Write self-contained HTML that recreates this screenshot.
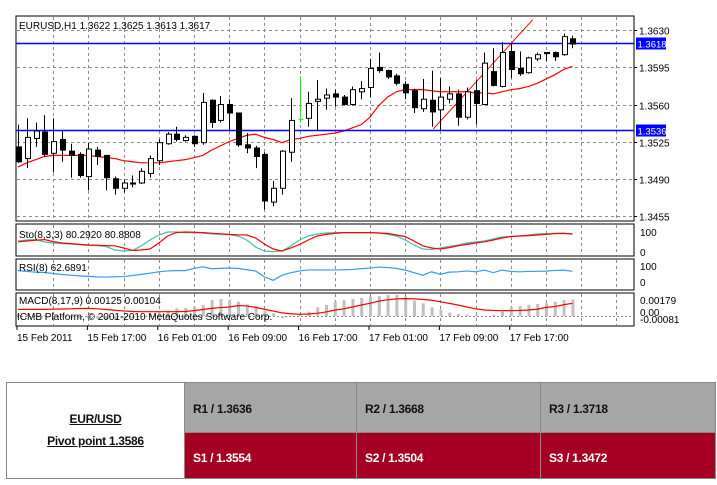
<!DOCTYPE html>
<html><head><meta charset="utf-8"><style>
html,body{margin:0;padding:0;background:#fff;}
body{width:717px;height:485px;position:relative;overflow:hidden;font-family:"Liberation Sans",sans-serif;}
svg{position:absolute;left:0;top:0;}
svg text{font-family:"Liberation Sans",sans-serif;font-size:10px;fill:#000;}
.tbl{position:absolute;left:6px;top:382px;width:710px;height:97px;border:1px solid #888;box-sizing:border-box;}
.cell{position:absolute;box-sizing:border-box;font-weight:bold;font-size:12px;letter-spacing:-0.3px;}
.g{background:#a6a6a6;color:#111;border-left:1px solid #888;}
.r{background:#a50021;color:#fff;border-left:1px solid #888;border-top:1px solid #888;}
</style></head><body>
<svg id="chart" width="717" height="485"></svg>

<div class="tbl">
 <div class="cell" style="left:0;top:0;width:177px;height:95px;text-align:center;color:#111;">
  <div style="position:absolute;top:29px;width:100%;"><span style="text-decoration:underline;">EUR/USD</span></div>
  <div style="position:absolute;top:51px;width:100%;"><span style="text-decoration:underline;">Pivot point 1.3586</span></div>
 </div>
 <div class="cell g" style="left:177px;top:0;width:172px;height:49px;padding:19px 0 0 8px;">R1 / 1.3636</div>
 <div class="cell g" style="left:349px;top:0;width:184px;height:49px;padding:19px 0 0 8px;">R2 / 1.3668</div>
 <div class="cell g" style="left:533px;top:0;width:175px;height:49px;padding:19px 0 0 8px;">R3 / 1.3718</div>
 <div class="cell r" style="left:177px;top:49px;width:172px;height:46px;padding:18px 0 0 8px;">S1 / 1.3554</div>
 <div class="cell r" style="left:349px;top:49px;width:184px;height:46px;padding:18px 0 0 8px;">S2 / 1.3504</div>
 <div class="cell r" style="left:533px;top:49px;width:175px;height:46px;padding:18px 0 0 8px;">S3 / 1.3472</div>
</div>

<script>
const opens=[1.3520,1.3509,1.3528,1.3534,1.3514,1.3527,1.3516,1.3513,1.3492,1.3517,1.3512,1.3490,1.3481,1.3486,1.3486,1.3495,1.3507,1.3523,1.3532,1.3526,1.3530,1.3524,1.3564,1.3545,1.3560,1.3552,1.3522,1.3519,1.3513,1.3468,1.3481,1.3515,1.3546,1.3547,1.3563,1.3566,1.3570,1.3567,1.3560,1.3572,1.3576,1.3595,1.3592,1.3587,1.3579,1.3573,1.3556,1.3564,1.3555,1.3565,1.3570,1.3548,1.3573,1.3560,1.3591,1.3577,1.3610,1.3594,1.3590,1.3603,1.3609,1.3609,1.3607,1.3622];
const highs=[1.3541,1.3547,1.3543,1.3550,1.3547,1.3535,1.3523,1.3515,1.3524,1.3520,1.3512,1.3492,1.3489,1.3493,1.3500,1.3512,1.3527,1.3534,1.3539,1.3531,1.3531,1.3571,1.3565,1.3568,1.3565,1.3552,1.3533,1.3521,1.3515,1.3488,1.3517,1.3566,1.3587,1.3572,1.3583,1.3575,1.3574,1.3569,1.3577,1.3582,1.3603,1.3609,1.3593,1.3589,1.3582,1.3575,1.3584,1.3592,1.3585,1.3577,1.3574,1.3576,1.3583,1.3609,1.3613,1.3619,1.3618,1.3610,1.3605,1.3609,1.3609,1.3610,1.3627,1.3625];
const lows=[1.3505,1.3500,1.3520,1.3511,1.3496,1.3506,1.3491,1.3491,1.3479,1.3503,1.3479,1.3475,1.3477,1.3482,1.3485,1.3491,1.3503,1.3522,1.3525,1.3525,1.3520,1.3522,1.3538,1.3543,1.3536,1.3520,1.3514,1.3500,1.3461,1.3464,1.3475,1.3506,1.3543,1.3539,1.3535,1.3555,1.3558,1.3559,1.3559,1.3565,1.3567,1.3590,1.3584,1.3578,1.3565,1.3552,1.3553,1.3539,1.3536,1.3561,1.3540,1.3546,1.3541,1.3560,1.3577,1.3576,1.3585,1.3587,1.3589,1.3601,1.3601,1.3601,1.3606,1.3613];
const closes=[1.3506,1.3529,1.3535,1.3513,1.3525,1.3517,1.3512,1.3493,1.3518,1.3511,1.3491,1.3481,1.3486,1.3485,1.3497,1.3509,1.3524,1.3532,1.3527,1.3529,1.3523,1.3562,1.3543,1.3560,1.3552,1.3522,1.3519,1.3511,1.3469,1.3481,1.3516,1.3545,1.3546,1.3561,1.3565,1.3569,1.3567,1.3560,1.3574,1.3575,1.3594,1.3592,1.3586,1.3580,1.3571,1.3557,1.3565,1.3553,1.3567,1.3570,1.3548,1.3572,1.3561,1.3599,1.3578,1.3609,1.3593,1.3589,1.3604,1.3607,1.3608,1.3605,1.3624,1.3617];
const maValues=[1.3501,1.3505,1.3508,1.3511,1.3512,1.3512,1.3512,1.3512,1.3512,1.3511,1.3510,1.3509,1.3507,1.3506,1.3505,1.3505,1.3505,1.3506,1.3507,1.3508,1.3510,1.3512,1.3517,1.3521,1.3525,1.3528,1.3531,1.3532,1.3529,1.3527,1.3524,1.3527,1.3528,1.3530,1.3531,1.3532,1.3533,1.3535,1.3538,1.3541,1.3548,1.3559,1.3567,1.3572,1.3574,1.3574,1.3574,1.3573,1.3572,1.3572,1.3572,1.3572,1.3571,1.3571,1.3570,1.3572,1.3574,1.3575,1.3577,1.3580,1.3584,1.3588,1.3593,1.3596];
const stochMain=[55,60,62,50,45,42,40,36,33,32,28,10,5,8,30,60,85,100,100,97,96,95,90,88,86,80,60,25,5,2,5,30,60,80,90,95,97,97,97,97,97,95,88,80,60,35,15,12,20,28,35,45,50,55,65,75,78,80,85,90,92,93,94,88];
const stochSignal=[51,55,59,62,52,45,42,38,35,34,32,31,20,8,10,15,45,80,97,100,99,97,94,91,88,86,85,70,40,15,5,20,38,60,80,88,93,97,97,97,97,95,93,85,77,55,31,20,15,22,31,38,45,51,60,70,77,80,82,85,88,92,93,90];
const rsiValues=[67,62,58,56,50,44,40,36,33,30,29,31,32,38,45,52,60,65,67,67,80,90,78,80,82,80,72,65,30,10,40,55,65,71,71,71,71,72,74,78,82,88,85,80,70,55,40,60,45,58,60,65,60,70,55,70,62,60,62,63,64,68,70,63];
const macdHist=[0.0002,0.0002,0.0001,0.0001,0.0000,-0.0001,-0.0002,-0.0003,-0.0003,-0.0003,-0.0004,-0.0004,-0.0003,-0.0002,0.0000,0.0002,0.0004,0.00059,0.00085,0.00090,0.00100,0.00122,0.00178,0.00189,0.00178,0.00159,0.00130,0.00111,0.00059,0.00030,-0.00026,-0.00007,0.00020,0.00048,0.00096,0.00122,0.00159,0.00178,0.00189,0.00200,0.00215,0.00222,0.00233,0.00233,0.00215,0.00170,0.00141,0.00096,0.00074,0.00037,0.00022,0.00015,0.00011,0.00000,0.00011,0.00050,0.00096,0.00111,0.00122,0.00135,0.00141,0.00159,0.00178,0.00185];
const macdSignal=[0.00074,0.00074,0.00074,0.00074,0.00076,0.00078,0.00080,0.00083,0.00085,0.00080,0.00072,0.00064,0.00056,0.00050,0.00048,0.00048,0.00048,0.00048,0.00048,0.00050,0.00060,0.00072,0.00085,0.00094,0.00100,0.00115,0.00112,0.00096,0.00075,0.00055,0.00035,0.00025,0.00019,0.00022,0.00030,0.00045,0.00065,0.00080,0.00100,0.00122,0.00141,0.00165,0.00180,0.00190,0.00193,0.00190,0.00185,0.00175,0.00159,0.00140,0.00122,0.00100,0.00080,0.00067,0.00062,0.00059,0.00060,0.00062,0.00067,0.00075,0.00096,0.00105,0.00125,0.00141];
const priceTicks=[1.3630,1.3595,1.3560,1.3525,1.3490,1.3455];
const levelLines=[1.3618,1.3536];
const trendBars=[47.2,58.5];
const trendPrices=[1.3537,1.3640];
const dateLabels=["15 Feb 2011","15 Feb 17:00","16 Feb 01:00","16 Feb 09:00","16 Feb 17:00","17 Feb 01:00","17 Feb 09:00","17 Feb 17:00"];
const dateBars=[0,8,16,24,32,40,48,56];

const svg=document.getElementById('chart');
const NS='http://www.w3.org/2000/svg';
function mk(tag,attrs,parent){const e=document.createElementNS(NS,tag);for(const k in attrs)e.setAttribute(k,attrs[k]);(parent||svg).appendChild(e);return e;}
const L=16,R=634;
const xB=i=>18+8.8*i;
const yP=p=>43+(1.3618-p)/0.0000943;
const yS=v=>252-v*0.2;
const yR=v=>282-v*0.17;
const yM=v=>316-v*9000;

const panels=[[16,221,'main-panel'],[224,256,'stoch-panel'],[259,290,'rsi-panel'],[293,326,'macd-panel']];
panels.forEach(p=>{
 const r=mk('rect',{x:L,y:p[0],width:R-L,height:p[1]-p[0],fill:'#fff',stroke:'#000','stroke-width':1});
 
 
});
for(let k=1;k<=17;k++){
 const x=Math.round(xB(4*k))+0.5;
 panels.forEach(p=>{
  const g=mk('line',{x1:x,x2:x,y1:p[0]+1,y2:p[1]-1,stroke:'#8c8c8c','stroke-dasharray':'3,3'});
  
  
 });
}
priceTicks.forEach(t=>{
 const y=Math.round(yP(t))+0.5;
 const g=mk('line',{x1:L+1,x2:R-1,y1:y,y2:y,stroke:'#8c8c8c','stroke-dasharray':'3,3'});
 
 
 mk('line',{x1:R,x2:R+3,y1:y,y2:y,stroke:'#000'});
 const tx=mk('text',{x:639,y:y+4});
 tx.textContent=t.toFixed(4);
 
 
});
let d='';
maValues.forEach((v,i)=>{d+=(i?'L':'M')+xB(i)+','+yP(v);});
const ma=mk('path',{d:d,fill:'none',stroke:'#ff0000','stroke-width':1.2});


levelLines.forEach(l=>{
 const y=Math.round(yP(l))+0.5;
 const ln=mk('line',{x1:L,x2:R,y1:y,y2:y,stroke:'#0000ff','stroke-width':1.5});
 
 
 const bx=mk('rect',{x:636,y:y-6,width:30,height:12,fill:'#0000ff'});
 
 
 const t=mk('text',{x:637.5,y:y+4});
 t.style.fill='#fff';
 t.style.fontSize='9.5px';
 t.textContent=l.toFixed(4);
 
 
});
const tl=mk('line',{x1:xB(trendBars[0]),y1:yP(trendPrices[0]),x2:xB(trendBars[1]),y2:yP(trendPrices[1]),stroke:'#ff0000','stroke-width':1});


opens.forEach((o,i)=>{
 const c=closes[i],x=Math.round(xB(i))+0.5;
 const doji=Math.abs(o-c)<0.00005;
 const col=doji?'#00ff00':'#000';
 const g=mk('g',{});
 
 
 mk('line',{x1:x,x2:x,y1:yP(highs[i]),y2:yP(lows[i]),stroke:col},g);
 if(doji){mk('line',{x1:x-2,x2:x+3,y1:yP(o),y2:yP(o),stroke:col},g);return;}
 const top=yP(Math.max(o,c)),bot=yP(Math.min(o,c));
 mk('rect',{x:x-2,y:top,width:5,height:Math.max(1,bot-top),fill:c>o?'#fff':'#000',stroke:'#000'},g);
});
const title=mk('text',{x:19,y:29});
title.textContent='EURUSD,H1  1.3622 1.3625 1.3613 1.3617';



[[stochMain,'#40c0b0','stoch-main-line'],[stochSignal,'#ff0000','stoch-signal-line']].forEach(s=>{
 let p='';s[0].forEach((v,i)=>{p+=(i?'L':'M')+xB(i)+','+yS(v);});
 const e=mk('path',{d:p,fill:'none',stroke:s[1],'stroke-width':1.2});
 
 
});
let rp='';rsiValues.forEach((v,i)=>{rp+=(i?'L':'M')+xB(i)+','+yR(v);});
const rl=mk('path',{d:rp,fill:'none',stroke:'#3399ff','stroke-width':1.2});


const zl=mk('line',{x1:L+1,x2:R-1,y1:316.5,y2:316.5,stroke:'#8c8c8c','stroke-dasharray':'2,2'});


macdHist.forEach((v,i)=>{
 const y0=yM(0),y1=yM(v);
 const b=mk('rect',{x:xB(i)-1,y:Math.min(y0,y1),width:3,height:Math.abs(y1-y0),fill:'#c0c0c0'});
 
 
});
let mp='';macdSignal.forEach((v,i)=>{mp+=(i?'L':'M')+xB(i)+','+yM(v);});
const ml=mk('path',{d:mp,fill:'none',stroke:'#ff0000','stroke-width':1.2});



[['Sto(8,3,3) 80.2920 80.8808',19,238,'stoch-label'],['RSI(8) 62.6891',19,271,'rsi-label'],['MACD(8,17,9) 0.00125 0.00104',19,304,'macd-label'],['ICMB Platform, © 2001-2010 MetaQuotes Software Corp.',17,320,'copyright-label'],
 ['100',640,236,'stoch-100'],['0',640,256,'stoch-0'],['100',640,270,'rsi-100'],['0',640,286,'rsi-0'],['0.00179',640,304,'macd-max'],['0.00',640,316,'macd-zero'],['-0.00081',640,323,'macd-min']].forEach(a=>{
 const t=mk('text',{x:a[1],y:a[2]});
 t.textContent=a[0];
 
 
});
dateLabels.forEach((s,k)=>{
 const x=xB(dateBars[k]);
 mk('line',{x1:x-1,x2:x-1,y1:326,y2:330,stroke:'#000'});
 const t=mk('text',{x:x-1,y:341});
 t.textContent=s;
 
 
});
</script>
</body></html>
